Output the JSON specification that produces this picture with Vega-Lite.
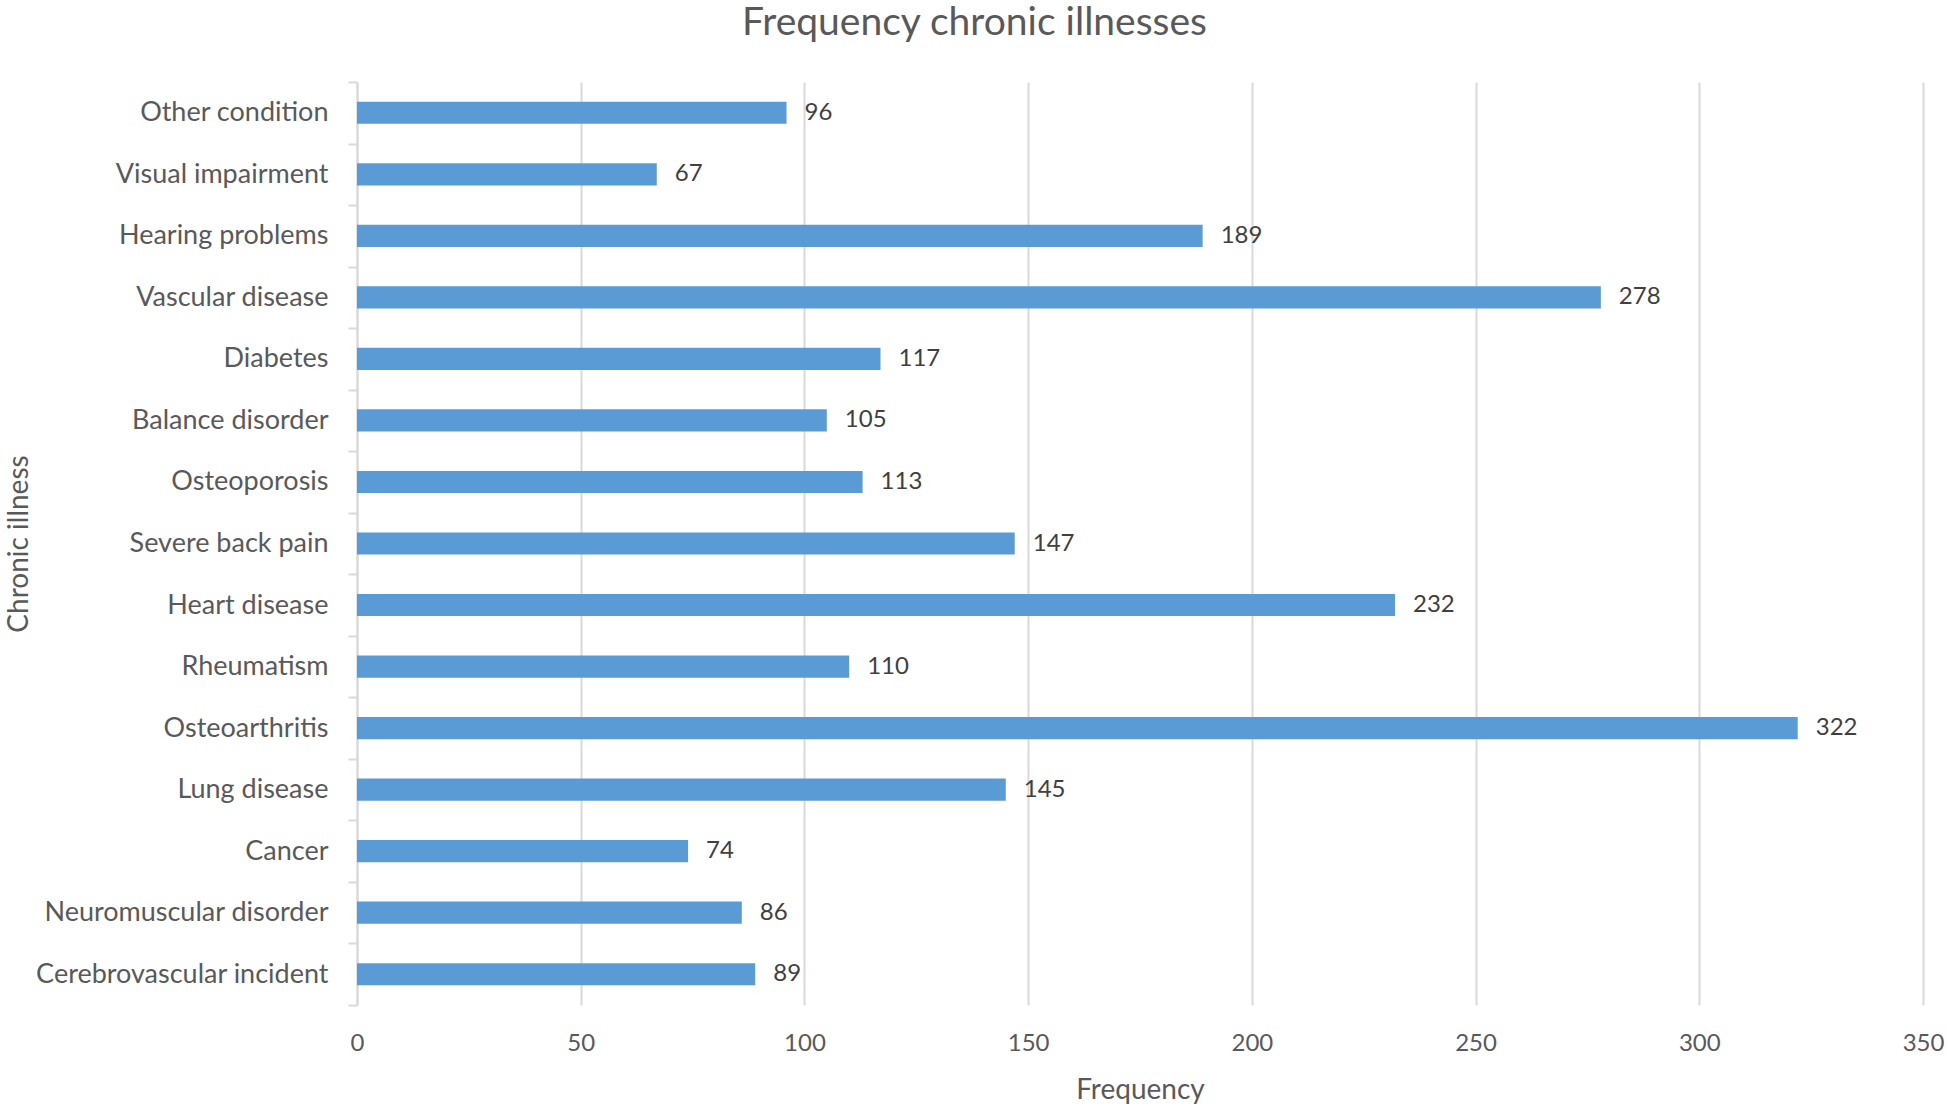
{
  "$schema": "https://vega.github.io/schema/vega-lite/v6.json",
  "width": 1566,
  "height": 923,
  "autosize": {"type": "none"},
  "padding": {"left": 357, "top": 82, "right": 23, "bottom": 99},
  "background": "white",
  "title": {
    "text": "Frequency chronic illnesses",
    "font": "Lato",
    "fontSize": 39,
    "fontWeight": "normal",
    "color": "#595959",
    "anchor": "middle",
    "frame": "bounds",
    "offset": 25
  },
  "data": {
    "values": [
      {"illness": "Other condition", "frequency": 96},
      {"illness": "Visual impairment", "frequency": 67},
      {"illness": "Hearing problems", "frequency": 189},
      {"illness": "Vascular disease", "frequency": 278},
      {"illness": "Diabetes", "frequency": 117},
      {"illness": "Balance disorder", "frequency": 105},
      {"illness": "Osteoporosis", "frequency": 113},
      {"illness": "Severe back pain", "frequency": 147},
      {"illness": "Heart disease", "frequency": 232},
      {"illness": "Rheumatism", "frequency": 110},
      {"illness": "Osteoarthritis", "frequency": 322},
      {"illness": "Lung disease", "frequency": 145},
      {"illness": "Cancer", "frequency": 74},
      {"illness": "Neuromuscular disorder", "frequency": 86},
      {"illness": "Cerebrovascular incident", "frequency": 89}
    ]
  },
  "encoding": {
    "y": {
      "field": "illness",
      "type": "nominal",
      "sort": null,
      "scale": {"paddingInner": 0, "paddingOuter": 0},
      "axis": {
        "title": "Chronic illness",
        "titleFont": "Lato",
        "titleFontSize": 28,
        "titleFontWeight": "normal",
        "titleColor": "#595959",
        "titleX": -338,
        "titleY": 461.5,
        "titleAngle": -90,
        "titleAlign": "center",
        "titleBaseline": "middle",
        "labelFont": "Lato",
        "labelFontSize": 27,
        "labelColor": "#595959",
        "labelPadding": 20,
        "labelLimit": 0,
        "tickBand": "extent",
        "ticks": true,
        "tickSize": 9,
        "tickColor": "#d9d9d9",
        "tickWidth": 2,
        "domain": true,
        "domainColor": "#d9d9d9",
        "domainWidth": 2,
        "grid": false
      }
    },
    "x": {
      "field": "frequency",
      "type": "quantitative",
      "scale": {"domain": [0, 350], "nice": false},
      "axis": {
        "values": [0, 50, 100, 150, 200, 250, 300, 350],
        "title": "Frequency",
        "titleFont": "Lato",
        "titleFontSize": 28,
        "titleFontWeight": "normal",
        "titleColor": "#595959",
        "titleY": 85,
        "titleBaseline": "middle",
        "labelFont": "Lato",
        "labelFontSize": 24,
        "labelColor": "#595959",
        "labelPadding": 26,
        "labelFlush": false,
        "ticks": false,
        "domain": false,
        "grid": true,
        "gridColor": "#d9d9d9",
        "gridWidth": 2
      }
    }
  },
  "layer": [
    {
      "mark": {"type": "bar", "color": "#5B9BD5", "height": {"band": 0.36}}
    },
    {
      "mark": {"type": "text", "align": "left", "baseline": "middle", "dx": 18, "font": "Lato", "fontSize": 24, "color": "#404040"},
      "encoding": {"text": {"field": "frequency", "type": "quantitative"}}
    }
  ],
  "config": {"view": {"stroke": null}}
}
